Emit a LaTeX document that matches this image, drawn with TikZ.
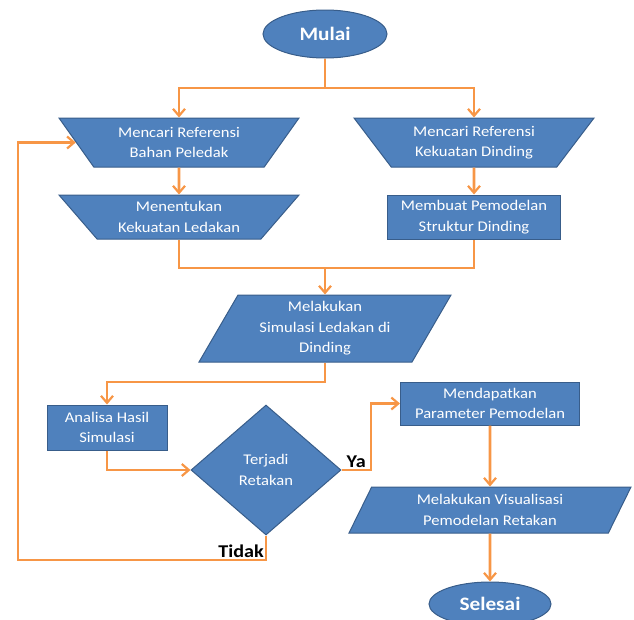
\documentclass[tikz,border=0pt]{standalone}
\usepackage{fontspec}
\setmainfont[FakeStretch=1.12]{Carlito}
\usepackage{xcolor}
\usetikzlibrary{positioning, arrows.meta, shapes.geometric}

\definecolor{boxblue}{HTML}{4F81BD}
\definecolor{boxedge}{HTML}{385D8A}
\definecolor{flowline}{HTML}{F79646}

\begin{document}
\begin{tikzpicture}[x=1pt, y=-1pt,
    shapebox/.style={draw=boxedge, fill=boxblue, line width=1pt, text=white,
        align=center, font=\fontsize{14.8}{20.5}\selectfont, inner sep=2pt},
    terminal/.style={shapebox, ellipse, font=\fontsize{19}{24}\selectfont\bfseries},
    inbox/.style={shapebox, trapezium, shape border rotate=180, trapezium stretches body=true},
    iobox/.style={shapebox, trapezium, trapezium stretches body=true},
    procbox/.style={shapebox, rectangle},
    choice/.style={shapebox, diamond, inner sep=0pt},
    line/.style={draw=flowline, line width=2.6pt},
    arrow/.style={line, -{Straight Barb[length=7pt, width=12pt, line width=2.2pt]}},
    answer/.style={font=\fontsize{18}{20}\selectfont\bfseries, text=black, inner sep=1pt}]

    \useasboundingbox (0,0) rectangle (634,619);

    % Start
    \node[terminal, minimum width=124pt, minimum height=48pt] (mulai) at (325,34) {Mulai};

    % Two references
    \node[inbox, trapezium left angle=45, trapezium right angle=45,
        minimum width=240pt, minimum height=49pt] (refbahan) at (179,142.5)
        {Mencari Referensi\\Bahan Peledak};
    \node[inbox, trapezium left angle=45, trapezium right angle=45,
        minimum width=240pt, minimum height=49pt] (refdinding) at (474,142.5)
        {Mencari Referensi\\Kekuatan Dinding};

    % Second row
    \node[inbox, trapezium left angle=42.5, trapezium right angle=42.5,
        minimum width=240pt, minimum height=44pt] (ledakan) at (179,217)
        {Menentukan\\Kekuatan Ledakan};
    \node[procbox, minimum width=173pt, minimum height=44pt] (struktur) at (474,217)
        {Membuat Pemodelan\\Struktur Dinding};

    % Simulation
    \node[iobox, trapezium left angle=56, trapezium right angle=124,
        minimum width=252pt, minimum height=67pt] (simulasi) at (325,328.5)
        {Melakukan\\Simulasi Ledakan di\\Dinding};

    % Analysis and decision
    \node[procbox, minimum width=120pt, minimum height=45pt] (analisa) at (107,427.5)
        {Analisa Hasil\\Simulasi};
    \node[choice, minimum width=150pt, minimum height=130pt] (retak) at (266,470)
        {Terjadi\\Retakan};

    % Results
    \node[procbox, minimum width=179pt, minimum height=43pt] (parameter) at (490,403.5)
        {Mendapatkan\\Parameter Pemodelan};
    \node[iobox, trapezium left angle=57, trapezium right angle=123,
        minimum width=282pt, minimum height=46pt] (visual) at (490,510)
        {Melakukan Visualisasi\\Pemodelan Retakan};
    \node[terminal, minimum width=122pt, minimum height=44pt] (selesai) at (490,604) {Selesai};

    % Bends
    \coordinate (split) at (325,88);
    \coordinate (join) at (325,268);
    \coordinate (turn) at (325,382);
    \coordinate (yabend) at (371,470);
    \coordinate (loop) at (18,560);

    % Connectors
    \draw[line] (mulai.south) -- (split);
    \draw[arrow] (split) -| (refbahan.north);
    \draw[arrow] (split) -| (refdinding.north);
    \draw[arrow] (refbahan.south) -- (ledakan.north);
    \draw[arrow] (refdinding.south) -- (struktur.north);
    \draw[line] (ledakan.south) |- (join) -| (struktur.south);
    \draw[arrow] (join) -- (simulasi.north);
    \draw[arrow] (simulasi.south) -- (turn) -| (analisa.north);
    \draw[arrow] (analisa.south) |- (retak.west);
    \draw[arrow] (retak.east) -- node[answer, above] {Ya} (yabend) |- (parameter.west);
    \draw[arrow] (retak.south) |- node[answer, pos=0.5, above left] {Tidak} (loop) |- (refbahan);
    \draw[arrow] (parameter.south) -- (visual.north);
    \draw[arrow] (visual.south) -- (selesai.north);

\end{tikzpicture}
\end{document}
